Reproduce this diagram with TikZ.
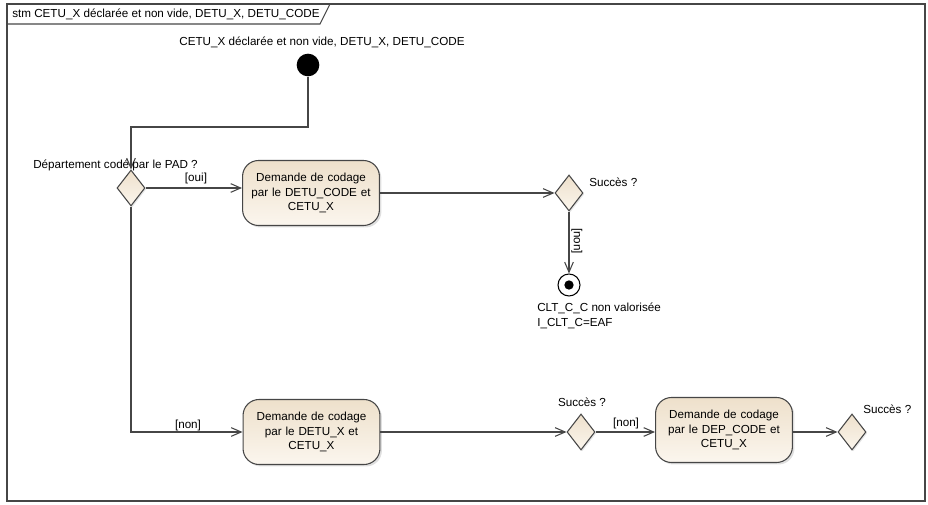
\documentclass[tikz,border=0pt]{standalone}
\usepackage{fontspec}
\setmainfont{Liberation Sans}
\usepackage{tikz}
\usetikzlibrary{shapes.geometric,arrows.meta,shadows}

\definecolor{boxtop}{RGB}{238,224,203}
\definecolor{boxbot}{RGB}{251,246,238}
\definecolor{edge}{RGB}{70,70,70}

\begin{document}
\begin{tikzpicture}[x=0.75pt,y=0.75pt,yscale=-1,xscale=1,
  every node/.style={font=\fontsize{8.75}{11}\selectfont},
  action/.style={draw=edge,line width=0.8pt,rounded corners=12pt,top color=boxtop,bottom color=boxbot,
    minimum width=100pt,minimum height=48.75pt,align=center,text width=96pt,
    drop shadow={shadow xshift=1.5pt,shadow yshift=-1.5pt,opacity=0.25}},
  decision/.style={diamond,draw=edge,line width=0.8pt,top color=boxtop,bottom color=boxbot,
    minimum width=21pt,minimum height=27pt,inner sep=0pt,
    drop shadow={shadow xshift=1pt,shadow yshift=-1pt,opacity=0.2}},
  flow/.style={draw=edge,line width=0.8pt,-{Straight Barb[length=7.5pt,width=6.5pt]}},
  lbl/.style={inner sep=0.75pt}]
\useasboundingbox (0,0) rectangle (928,505);

%Frame and title tab
\draw [draw=edge,line width=0.9pt] (7,4) rectangle (925,501);
\draw [draw=edge,line width=0.8pt] (7,24) -- (320,24) -- (330,4);
\node [lbl,anchor=west] (title) at (11,14) {stm CETU\_X déclarée et non vide, DETU\_X, DETU\_CODE};

%Initial node
\node [circle,fill=black,minimum size=17pt,inner sep=0pt] (start) at (308,65) {};
\node [lbl] (startlbl) at (322,42) {CETU\_X déclarée et non vide, DETU\_X, DETU\_CODE};
\coordinate (k1) at (131,127);

%Decisions
\node [decision] (d1) at (131,188) {};
\node [decision] (d2) at (569,193) {};
\node [decision] (d3) at (581,432) {};
\node [decision] (d4) at (852,432) {};

%Actions
\node [action] (b1) at (311,193) {Demande de codage\\par le DETU\_CODE et\\CETU\_X\\[4pt]};
\node [action] (b2) at (311.5,432) {Demande de codage\\par le DETU\_X et\\CETU\_X\\[4pt]};
\node [action] (b3) at (724,430) {Demande de codage\\par le DEP\_CODE et\\CETU\_X\\[4pt]};

%Final node
\node [circle,draw=black,line width=0.8pt,fill=white,minimum size=16.5pt,inner sep=0pt] (fin) at (569,285) {};
\node [circle,fill=black,minimum size=7pt,inner sep=0pt] (findot) at (fin) {};

%Straight Lines
\draw [flow] (start) |- (k1) -- (d1);
\draw [flow] (d1.east) -- (d1.east -| b1.west);
\draw [flow] (b1) -- (d2);
\draw [flow] (d2) -- (fin);
\draw [flow] (d1) |- (b2.west);
\draw [flow] (b2) -- (d3);
\draw [flow] (d3.east) -- (d3.east -| b3.west);
\draw [flow] (b3.east |- d4.west) -- (d4);

% Text Node
\node [lbl,anchor=west] (q1) at (32,165) {Département codé par le PAD ?};
% Text Node
\node [lbl] (oui) at (196,178) {[oui]};
% Text Node
\node [lbl,anchor=west] (q2) at (588,182) {Succès ?};
% Text Node
\node [lbl,rotate=-90] (non1) at (577,241) {[non]};
% Text Node
\node [lbl,anchor=north west,align=left] (finlbl) at (536,302) {CLT\_C\_C non valorisée\\I\_CLT\_C=EAF};
% Text Node
\node [lbl] (non2) at (188,425) {[non]};
% Text Node
\node [lbl] (q3) at (582,402) {Succès ?};
% Text Node
\node [lbl] (non3) at (626,423) {[non]};
% Text Node
\node [lbl,anchor=west] (q4) at (862,409) {Succès ?};

\end{tikzpicture}
\end{document}
